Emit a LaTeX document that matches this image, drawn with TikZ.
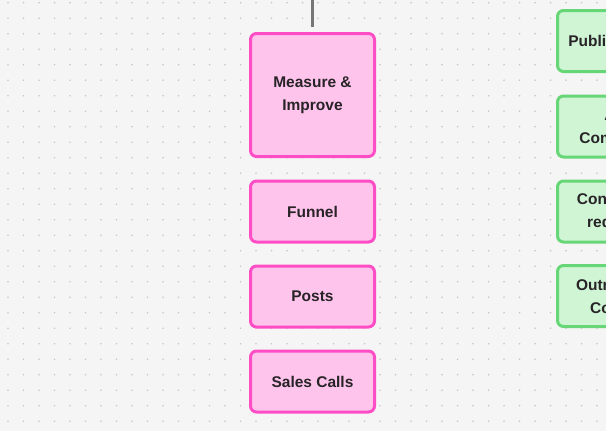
\documentclass[tikz,border=0pt]{standalone}
\usepackage{fontspec}
\setmainfont{Liberation Sans}
\definecolor{bgc}{HTML}{F5F5F5}
\definecolor{dotc}{HTML}{C8C8C8}
\definecolor{pinkline}{HTML}{FF4DC6}
\definecolor{pinkfill}{HTML}{FFC4EC}
\definecolor{greenline}{HTML}{67D676}
\definecolor{greenfill}{HTML}{CFF5D5}
\definecolor{txt}{HTML}{272326}
\definecolor{linec}{HTML}{777777}
\begin{document}
\begin{tikzpicture}[x=1pt,y=-1pt,
  card/.style={draw, line width=3pt, rounded corners=6pt, minimum width=124pt,
    minimum height=61pt, align=center, text=txt,
    font=\fontsize{15.5}{23}\selectfont\bfseries, inner sep=0pt},
  pinkcard/.style={card, draw=pinkline, fill=pinkfill},
  greencard/.style={card, draw=greenline, fill=greenfill},
  conn/.style={draw=linec, line width=3.5pt}]
\useasboundingbox (0,0) rectangle (606,431);
\clip (0,0) rectangle (606,431);
\fill[bgc] (0,0) rectangle (606,431);
\foreach \i in {0,...,39}{
  \foreach \j in {0,...,27}{
    \fill[dotc] ({8+15.5*\i},{2.7+15.5*\j}) circle (0.95);
  }
}
\node[pinkcard, minimum height=123pt] (m) at (312.5,95) {Measure \&\\Improve};
\node[pinkcard] (f) at (312.5,211.5) {Funnel};
\node[pinkcard] (p) at (312.5,296.5) {Posts};
\node[pinkcard] (s) at (312.5,381.5) {Sales Calls};
\node[greencard] (g1) at (619.5,41) {Publish Posts};
\node[greencard] (g2) at (619.5,126.5) {Add\\Comments};
\node[greencard] (g3) at (619.5,211.5) {Connection\\requests};
\node[greencard] (g4) at (619.5,296) {Outreach to\\Content};
\coordinate (top) at (312.5,-2);
\draw[conn, shorten >=5pt] (top) -- (m.north);
\end{tikzpicture}
\end{document}
